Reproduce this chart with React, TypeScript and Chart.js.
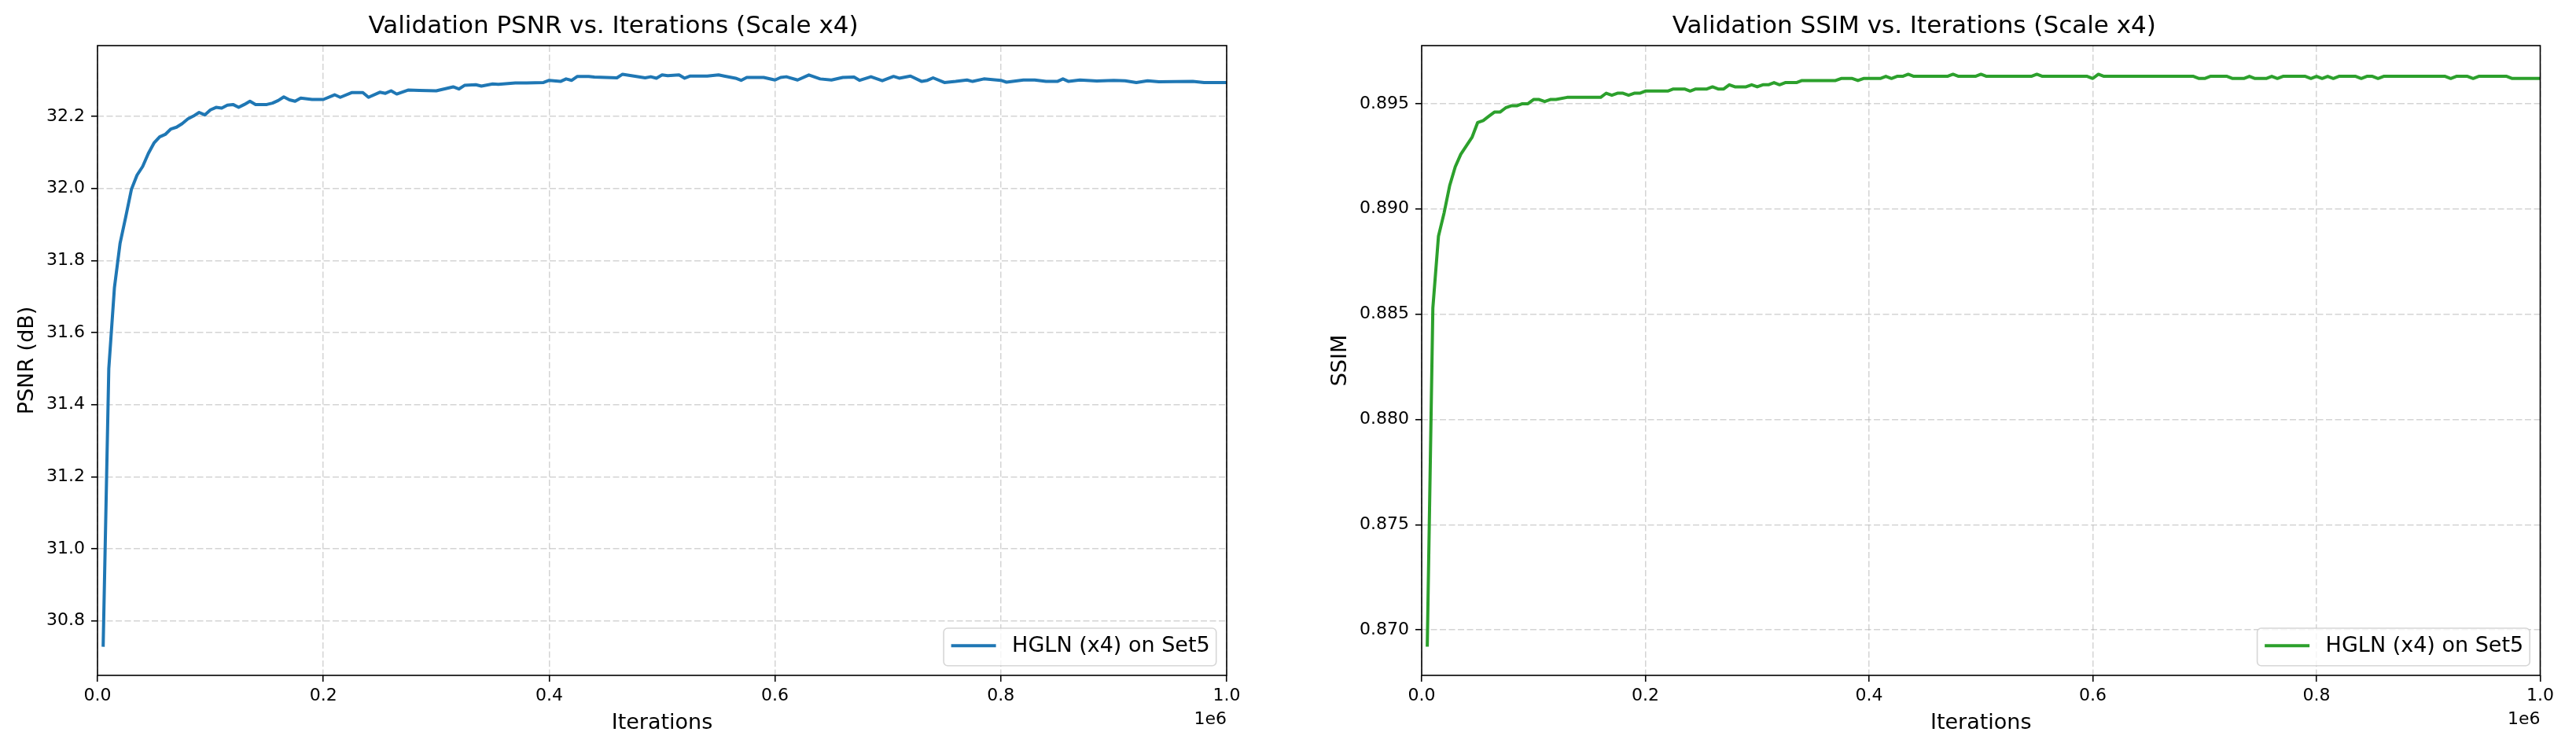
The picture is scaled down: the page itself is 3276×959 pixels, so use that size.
import { useEffect, useRef } from "react";
import { Chart, registerables } from "chart.js";

Chart.register(...registerables);

// iterations (thousands) and PSNR (dB)
const psnrIters = [
  5, 10, 15, 20, 25, 30, 35, 40, 45, 50, 55, 60, 65, 70, 75, 80, 85, 90, 95, 100,
  105, 110, 115, 120, 125, 130, 135, 140, 150, 155, 160, 165, 170, 175, 180, 190,
  200, 210, 215, 225, 235, 240, 250, 255, 260, 265, 275, 285, 300, 315, 320, 325,
  335, 340, 350, 355, 370, 380, 395, 400, 410, 415, 420, 425, 435, 440, 460, 465,
  475, 485, 490, 495, 500, 505, 515, 520, 525, 540, 550, 555, 565, 570, 575, 590,
  600, 605, 610, 620, 630, 640, 650, 660, 670, 675, 685, 695, 705, 710, 720, 730,
  735, 740, 750, 760, 770, 775, 785, 800, 805, 820, 830, 840, 850, 855, 860, 870,
  885, 900, 910, 920, 930, 940, 970, 980, 1000,
];
const psnrValues = [
  30.728, 31.5, 31.725, 31.848, 31.921, 31.997, 32.037, 32.061, 32.097, 32.126,
  32.143, 32.15, 32.165, 32.17, 32.18, 32.193, 32.201, 32.211, 32.204, 32.218,
  32.225, 32.223, 32.231, 32.233, 32.225, 32.233, 32.242, 32.233, 32.233, 32.237,
  32.244, 32.254, 32.246, 32.242, 32.251, 32.247, 32.247, 32.26, 32.253, 32.266,
  32.266, 32.253, 32.267, 32.264, 32.271, 32.262, 32.273, 32.272, 32.271, 32.282,
  32.276, 32.286, 32.288, 32.284, 32.29, 32.289, 32.293, 32.293, 32.294, 32.3,
  32.297, 32.304, 32.3, 32.311, 32.311, 32.309, 32.307, 32.317, 32.312, 32.307,
  32.31, 32.306, 32.315, 32.313, 32.315, 32.306, 32.312, 32.312, 32.315, 32.312,
  32.306, 32.3, 32.308, 32.308, 32.301, 32.308, 32.31, 32.301, 32.315, 32.304,
  32.301, 32.308, 32.309, 32.3, 32.31, 32.299, 32.311, 32.306, 32.312, 32.297,
  32.3, 32.307, 32.294, 32.297, 32.301, 32.297, 32.304, 32.3, 32.295, 32.301,
  32.301, 32.297, 32.297, 32.304, 32.297, 32.301, 32.298, 32.3, 32.299, 32.294,
  32.299, 32.296, 32.297, 32.294, 32.294,
];

// iterations (thousands) and SSIM
const ssimIters = [
  5, 10, 15, 20, 25, 30, 35, 40, 45, 50, 55, 60, 65, 70, 75, 80, 85, 90, 95, 100,
  105, 110, 115, 120, 130, 160, 165, 170, 175, 180, 185, 190, 195, 200, 220, 225,
  235, 240, 245, 255, 260, 265, 270, 275, 280, 290, 295, 300, 305, 310, 315, 320,
  325, 335, 340, 370, 375, 385, 390, 395, 410, 415, 420, 425, 430, 435, 440, 470,
  475, 480, 495, 500, 505, 545, 550, 555, 595, 600, 605, 610, 690, 695, 700, 705,
  720, 725, 735, 740, 745, 755, 760, 765, 770, 790, 795, 800, 805, 810, 815, 820,
  835, 840, 845, 850, 855, 860, 915, 920, 925, 935, 940, 945, 970, 975, 1000,
];
const ssimValues = [
  0.8692, 0.8853, 0.8887, 0.8898, 0.8911, 0.892, 0.8926, 0.893, 0.8934, 0.8941,
  0.8942, 0.8944, 0.8946, 0.8946, 0.8948, 0.8949, 0.8949, 0.895, 0.895, 0.8952,
  0.8952, 0.8951, 0.8952, 0.8952, 0.8953, 0.8953, 0.8955, 0.8954, 0.8955, 0.8955,
  0.8954, 0.8955, 0.8955, 0.8956, 0.8956, 0.8957, 0.8957, 0.8956, 0.8957, 0.8957,
  0.8958, 0.8957, 0.8957, 0.8959, 0.8958, 0.8958, 0.8959, 0.8958, 0.8959, 0.8959,
  0.896, 0.8959, 0.896, 0.896, 0.8961, 0.8961, 0.8962, 0.8962, 0.8961, 0.8962,
  0.8962, 0.8963, 0.8962, 0.8963, 0.8963, 0.8964, 0.8963, 0.8963, 0.8964, 0.8963,
  0.8963, 0.8964, 0.8963, 0.8963, 0.8964, 0.8963, 0.8963, 0.8962, 0.8964, 0.8963,
  0.8963, 0.8962, 0.8962, 0.8963, 0.8963, 0.8962, 0.8962, 0.8963, 0.8962, 0.8962,
  0.8963, 0.8962, 0.8963, 0.8963, 0.8962, 0.8963, 0.8962, 0.8963, 0.8962, 0.8963,
  0.8963, 0.8962, 0.8963, 0.8963, 0.8962, 0.8963, 0.8963, 0.8962, 0.8963, 0.8963,
  0.8962, 0.8963, 0.8963, 0.8962, 0.8962,
];

const xTicks = [0, 0.2, 0.4, 0.6, 0.8, 1.0];
const psnrTicks = [30.8, 31.0, 31.2, 31.4, 31.6, 31.8, 32.0, 32.2];
const ssimTicks = [0.87, 0.875, 0.88, 0.885, 0.89, 0.895];

const FONT = "'DejaVu Sans', sans-serif";

// matplotlib-ish spines, legend and the "1e6" offset text
const decorPlugin = {
  id: "decor",
  afterDatasetsDraw(chart) {
    const { ctx, chartArea: a } = chart;
    ctx.save();
    ctx.strokeStyle = "#000";
    ctx.lineWidth = 1.6;
    ctx.strokeRect(a.left, a.top, a.right - a.left, a.bottom - a.top);

    // legend, lower right
    const ds = chart.data.datasets[0];
    ctx.font = `27px ${FONT}`;
    const tw = ctx.measureText(ds.label).width;
    const h = 47.7;
    const w = 87 + tw + 8;
    const x = a.right - 13.3 - w;
    const y = a.bottom - 12.3 - h;
    ctx.beginPath();
    ctx.roundRect(x, y, w, h, 5);
    ctx.fillStyle = "rgba(255,255,255,0.8)";
    ctx.fill();
    ctx.strokeStyle = "rgba(204,204,204,0.8)";
    ctx.lineWidth = 1.6;
    ctx.stroke();
    ctx.beginPath();
    ctx.moveTo(x + 9.5, y + h / 2 - 1.5);
    ctx.lineTo(x + 66.5, y + h / 2 - 1.5);
    ctx.strokeStyle = ds.borderColor;
    ctx.lineWidth = 4;
    ctx.stroke();
    ctx.fillStyle = "#000";
    ctx.textBaseline = "middle";
    ctx.textAlign = "left";
    ctx.fillText(ds.label, x + 87, y + h / 2 - 0.5);

    // offset text
    ctx.font = `22px ${FONT}`;
    ctx.textAlign = "right";
    ctx.fillText("1e6", a.right, 915);
    ctx.restore();
  },
};

type PanelProps = {
  title: string;
  yLabel: string;
  label: string;
  color: string;
  iters: number[];
  values: number[];
  yTicks: number[];
  decimals: number;
  axisWidth: number;
  yTitlePad: number;
  padRight: number;
};

const gridOpts = {
  color: "rgba(176,176,176,0.55)",
  lineWidth: 1.5,
  tickLength: 8,
  tickColor: "#000",
  tickWidth: 1.6,
  tickBorderDash: [],
};

const Panel = (p: PanelProps) => {
  const canvasRef = useRef<HTMLCanvasElement>(null);
  const chartRef = useRef<Chart | null>(null);

  useEffect(() => {
    if (chartRef.current) chartRef.current.destroy();
    if (!canvasRef.current) return;

    const lo = Math.min(...p.values);
    const hi = Math.max(...p.values);
    const m = (hi - lo) * 0.05;

    chartRef.current = new Chart(canvasRef.current, {
      type: "line",
      data: {
        datasets: [
          {
            label: p.label,
            data: p.iters.map((it, i) => ({ x: it * 1000, y: p.values[i] })),
            borderColor: p.color,
            borderWidth: 4,
            borderJoinStyle: "round",
            pointRadius: 0,
            tension: 0,
            fill: false,
          },
        ],
      },
      options: {
        responsive: false,
        devicePixelRatio: 1,
        animation: false,
        color: "#000",
        layout: { padding: { left: 0, right: p.padRight, top: 0, bottom: 0 } },
        plugins: {
          legend: { display: false },
          tooltip: { enabled: false },
          title: {
            display: true,
            text: p.title,
            color: "#000",
            font: { family: FONT, size: 31, weight: "normal", lineHeight: 1.2 },
            padding: { top: 15.4, bottom: 5.4 },
          },
        },
        scales: {
          x: {
            type: "linear",
            min: 0,
            max: 1000000,
            afterFit: (s) => {
              s.height = 100;
            },
            afterBuildTicks: (s) => {
              s.ticks = xTicks.map((v) => ({ value: v * 1e6 }));
            },
            ticks: {
              color: "#000",
              padding: 5,
              maxRotation: 0,
              autoSkip: false,
              font: { family: FONT, size: 22, lineHeight: 1.2 },
              callback: (v) => (Number(v) / 1e6).toFixed(1),
            },
            grid: gridOpts,
            border: { display: false, dash: [8, 3.5] },
            title: {
              display: true,
              text: "Iterations",
              color: "#000",
              font: { family: FONT, size: 27, lineHeight: 1.2 },
              padding: { top: 0, bottom: 23 },
            },
          },
          y: {
            type: "linear",
            min: lo - m,
            max: hi + m,
            afterFit: (s) => {
              s.width = p.axisWidth;
            },
            afterBuildTicks: (s) => {
              s.ticks = p.yTicks.map((v) => ({ value: v }));
            },
            ticks: {
              color: "#000",
              padding: 8,
              autoSkip: false,
              font: { family: FONT, size: 22, lineHeight: 1.2 },
              callback: (v) => Number(v).toFixed(p.decimals),
            },
            grid: gridOpts,
            border: { display: false, dash: [8, 3.5] },
            title: {
              display: true,
              text: p.yLabel,
              color: "#000",
              font: { family: FONT, size: 27, lineHeight: 1.2 },
              padding: { top: p.yTitlePad, bottom: 0 },
            },
          },
        },
      },
      plugins: [decorPlugin],
    });

    return () => {
      if (chartRef.current) {
        chartRef.current.destroy();
        chartRef.current = null;
      }
    };
  }, []);

  return (
    <canvas
      ref={canvasRef}
      width={1638}
      height={959}
      style={{ width: "1638px", height: "959px", display: "block" }}
    />
  );
};

export default function App() {
  return (
    <div
      style={{
        position: "absolute",
        left: 0,
        top: 0,
        width: "3276px",
        height: "959px",
        display: "flex",
        background: "#fff",
      }}
    >
      <Panel
        title="Validation PSNR vs. Iterations (Scale x4)"
        yLabel="PSNR (dB)"
        label="HGLN (x4) on Set5"
        color="#1f77b4"
        iters={psnrIters}
        values={psnrValues}
        yTicks={psnrTicks}
        decimals={1}
        axisWidth={124}
        yTitlePad={18.8}
        padRight={78}
      />
      <Panel
        title="Validation SSIM vs. Iterations (Scale x4)"
        yLabel="SSIM"
        label="HGLN (x4) on Set5"
        color="#2ca02c"
        iters={ssimIters}
        values={ssimValues}
        yTicks={ssimTicks}
        decimals={3}
        axisWidth={170}
        yTitlePad={50.4}
        padRight={45.5}
      />
    </div>
  );
}
